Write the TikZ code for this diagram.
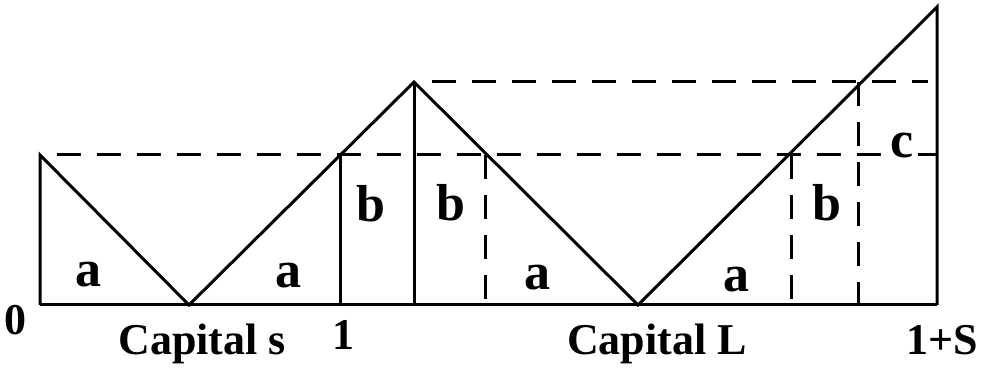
\documentclass[tikz,border=0pt]{standalone}
\usepackage{fontspec}
\setmainfont{Liberation Serif}
\tikzset{every picture/.style={line width=2.25pt}}
\tikzset{
  dashline/.style={dash pattern=on 18pt off 12pt},
  areatext/.style={anchor=base,inner sep=0pt,font=\fontsize{39}{41}\selectfont\bfseries},
  axistext/.style={anchor=base,inner sep=0pt,font=\fontsize{33}{36}\selectfont\bfseries}
}

\begin{document}
\begin{tikzpicture}[x=0.75pt,y=0.75pt,yscale=-1,xscale=1]
\useasboundingbox (0,0) rectangle (983,370);

% Corner points
\coordinate (p0) at (40,305);
\coordinate (t0) at (40,155);
\coordinate (v1) at (189,305);
\coordinate (q1) at (340,155);
\coordinate (p1) at (340,305);
\coordinate (m1) at (414,82);
\coordinate (n1) at (414,305);
\coordinate (q2) at (485,155);
\coordinate (r2) at (485,305);
\coordinate (v2) at (638,305);
\coordinate (q3) at (791,155);
\coordinate (r3) at (791,305);
\coordinate (m3) at (858,82);
\coordinate (r4) at (858,305);
\coordinate (tS) at (937,7);
\coordinate (pS) at (937,305);
\coordinate (hS) at (937,155);

% Text Node
\node [areatext] (la1) at (88,287) {a};
% Text Node
\node [areatext] (la2) at (288,288) {a};
% Text Node
\node [areatext] (la3) at (537,290) {a};
% Text Node
\node [areatext] (la4) at (736,292) {a};
% Text Node
\node [areatext] (lb1) at (371,222) {b};
% Text Node
\node [areatext] (lb2) at (451,221) {b};
% Text Node
\node [areatext] (lb3) at (827,221) {b};
% Text Node
\node [areatext,inner xsep=2pt] (lc) at (902,158) {c};
% Text Node
\node [axistext] (x0) at (16,335) {0};
% Text Node
\node [axistext] (xs) at (202,355) {Capital s};
% Text Node
\node [axistext] (x1) at (343,350) {1};
% Text Node
\node [axistext] (xL) at (657,355) {Capital L};
% Text Node
\node [axistext] (xS) at (942,355) {1+S};

%Dashed Lines
\draw [dashline]  (57,155) -- (lc.west |- hS) ;
\draw  (lc.east |- hS) -- (hS) ;
\draw [dashline]  (432,82) -- (928,82) ;
\draw [dashline]  (q2) -- (r2) ;
\draw [dashline]  (q3) -- (r3) ;
\draw [dashline]  (m3) -- (r4) ;

%Straight Lines
\draw  (p0) -- (pS) ;
\draw  (p0) -- (t0) -- (v1) -- (m1) -- (v2) -- (tS) -- (pS) ;
\draw  (q1) -- (p1) ;
\draw  (m1) -- (n1) ;

\end{tikzpicture}
\end{document}
